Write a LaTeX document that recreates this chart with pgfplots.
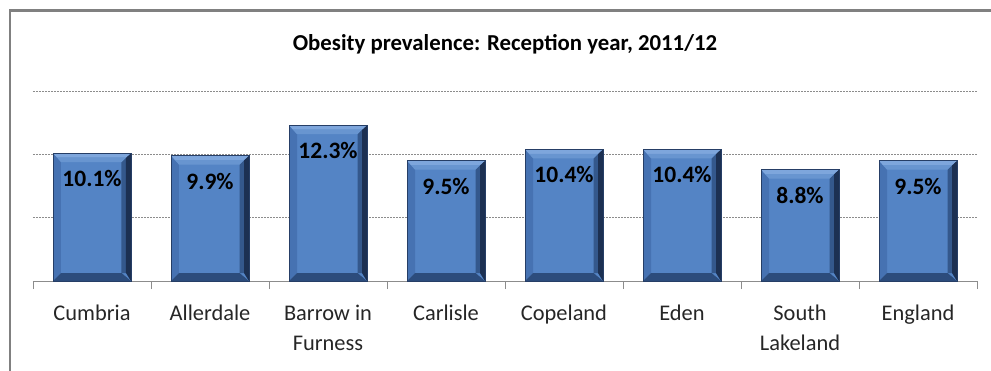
\documentclass[border=0pt]{standalone}
\usepackage{pgfplots}
\pgfplotsset{compat=1.18}
\usepackage{fontspec}
\setmainfont{Carlito}
\definecolor{face}{RGB}{84,132,197}
\definecolor{bevtop}{RGB}{126,166,220}
\definecolor{bevtop2}{RGB}{104,149,208}
\definecolor{bevleft}{RGB}{70,114,178}
\definecolor{bevright}{RGB}{28,48,82}
\definecolor{bevright2}{RGB}{52,88,140}
\definecolor{bevbot}{RGB}{44,76,124}
\definecolor{edge}{RGB}{38,62,102}
\definecolor{frame}{RGB}{128,128,128}
\definecolor{gridc}{RGB}{140,140,140}
% bevel overlay drawn at each bar top; height from point meta (0..15 -> 0..190pt)
\pgfdeclareplotmark{bevelbar}{%
  \pgfmathsetlengthmacro\bh{-\pgfplotspointmetatransformed*0.19pt}%
  \pgfmathsetlengthmacro\bi{-\pgfplotspointmetatransformed*0.19pt+8pt}%
  \pgfsetfillcolor{bevleft}%
  \pgfpathmoveto{\pgfpoint{-38.94pt}{0pt}}%
  \pgfpathlineto{\pgfpoint{-31pt}{-9pt}}%
  \pgfpathlineto{\pgfpoint{-31pt}{\bi}}%
  \pgfpathlineto{\pgfpoint{-38.94pt}{\bh}}%
  \pgfpathclose\pgfusepath{fill}%
  \pgfsetfillcolor{bevright2}%
  \pgfpathmoveto{\pgfpoint{29.5pt}{-9pt}}%
  \pgfpathlineto{\pgfpoint{34pt}{-4.5pt}}%
  \pgfpathlineto{\pgfpoint{34pt}{\bi}}%
  \pgfpathlineto{\pgfpoint{29.5pt}{\bi}}%
  \pgfpathclose\pgfusepath{fill}%
  \pgfsetfillcolor{bevright}%
  \pgfpathmoveto{\pgfpoint{38.94pt}{0pt}}%
  \pgfpathlineto{\pgfpoint{34pt}{-4.5pt}}%
  \pgfpathlineto{\pgfpoint{34pt}{\bi}}%
  \pgfpathlineto{\pgfpoint{38.94pt}{\bh}}%
  \pgfpathclose\pgfusepath{fill}%
  \pgfsetfillcolor{bevbot}%
  \pgfpathmoveto{\pgfpoint{-38.94pt}{\bh}}%
  \pgfpathlineto{\pgfpoint{38.94pt}{\bh}}%
  \pgfpathlineto{\pgfpoint{29.5pt}{\bi}}%
  \pgfpathlineto{\pgfpoint{-31pt}{\bi}}%
  \pgfpathclose\pgfusepath{fill}%
  \pgfsetfillcolor{bevtop}%
  \pgfpathmoveto{\pgfpoint{-38.94pt}{0pt}}%
  \pgfpathlineto{\pgfpoint{38.94pt}{0pt}}%
  \pgfpathlineto{\pgfpoint{34pt}{-4.5pt}}%
  \pgfpathlineto{\pgfpoint{-35pt}{-4.5pt}}%
  \pgfpathclose\pgfusepath{fill}%
  \pgfsetfillcolor{bevtop2}%
  \pgfpathmoveto{\pgfpoint{-35pt}{-4.5pt}}%
  \pgfpathlineto{\pgfpoint{34pt}{-4.5pt}}%
  \pgfpathlineto{\pgfpoint{29.5pt}{-9pt}}%
  \pgfpathlineto{\pgfpoint{-31pt}{-9pt}}%
  \pgfpathclose\pgfusepath{fill}%
  \pgfsetstrokecolor{edge}\pgfsetlinewidth{0.6pt}%
  \pgfpathrectanglecorners{\pgfpoint{-38.94pt}{0pt}}{\pgfpoint{38.94pt}{\bh}}%
  \pgfusepath{stroke}%
}
\pgfplotstableread{
x y
0 10.1
1 9.9
2 12.3
3 9.5
4 10.4
5 10.4
6 8.8
7 9.5
}\obesity
\begin{document}
\begin{tikzpicture}
\path[use as bounding box] (-33pt,-89pt) rectangle (958pt,281pt);
\draw[frame,line width=2.2pt] (-23pt,-120pt) -- (-23pt,270.5pt) -- (1000pt,270.5pt);
\begin{axis}[
  scale only axis,
  width=944pt, height=190pt,
  xmin=-0.5, xmax=7.5,
  ymin=0, ymax=15,
  /pgf/number format/assume math mode=true,
  axis x line*=bottom,
  axis y line*=left,
  y axis line style={draw=none},
  x axis line style={draw=gridc, line width=0.9pt},
  ytick={5,10,15},
  yticklabels={},
  ytick style={draw=none},
  ymajorgrids=true,
  grid style={draw=gridc, line width=0.6pt, dash pattern=on 2pt off 1pt},
  xtick=data,
  xticklabels={Cumbria,Allerdale,{Barrow in\\Furness},Carlisle,Copeland,Eden,{South\\Lakeland},England},
  major x tick style={draw=none},
  minor xtick={-0.5,0.5,...,7.5},
  minor tick length=8pt,
  tick align=outside,
  minor x tick style={draw=gridc, line width=0.9pt},
  xticklabel style={font=\fontsize{22.4}{30}\selectfont, text=black!85, align=center, anchor=north, inner sep=0pt, yshift=-19.5pt},
  title={\textbf{Obesity prevalence: Reception year, 2011/12}},
  title style={font=\fontsize{22.8}{26}\selectfont, at={(0.5,1)}, anchor=base, yshift=35pt},
  clip=false,
]
\addplot[ybar, bar width=0.66, bar shift=0pt, fill=face, draw=edge, line width=0.6pt] table[x=x,y=y] {\obesity};
\addplot[scatter, only marks, mark=bevelbar, point meta=y, point meta min=0, point meta max=15,
  nodes near coords={\pgfmathprintnumber[fixed,precision=1,fixed zerofill,assume math mode=true]{\pgfplotspointmeta}\%},
  every node near coord/.append style={font=\bfseries\fontsize{23.5}{28}\selectfont, text=black, anchor=center, yshift=-25.5pt},
] table[x=x,y=y] {\obesity};
\end{axis}
\end{tikzpicture}
\end{document}
